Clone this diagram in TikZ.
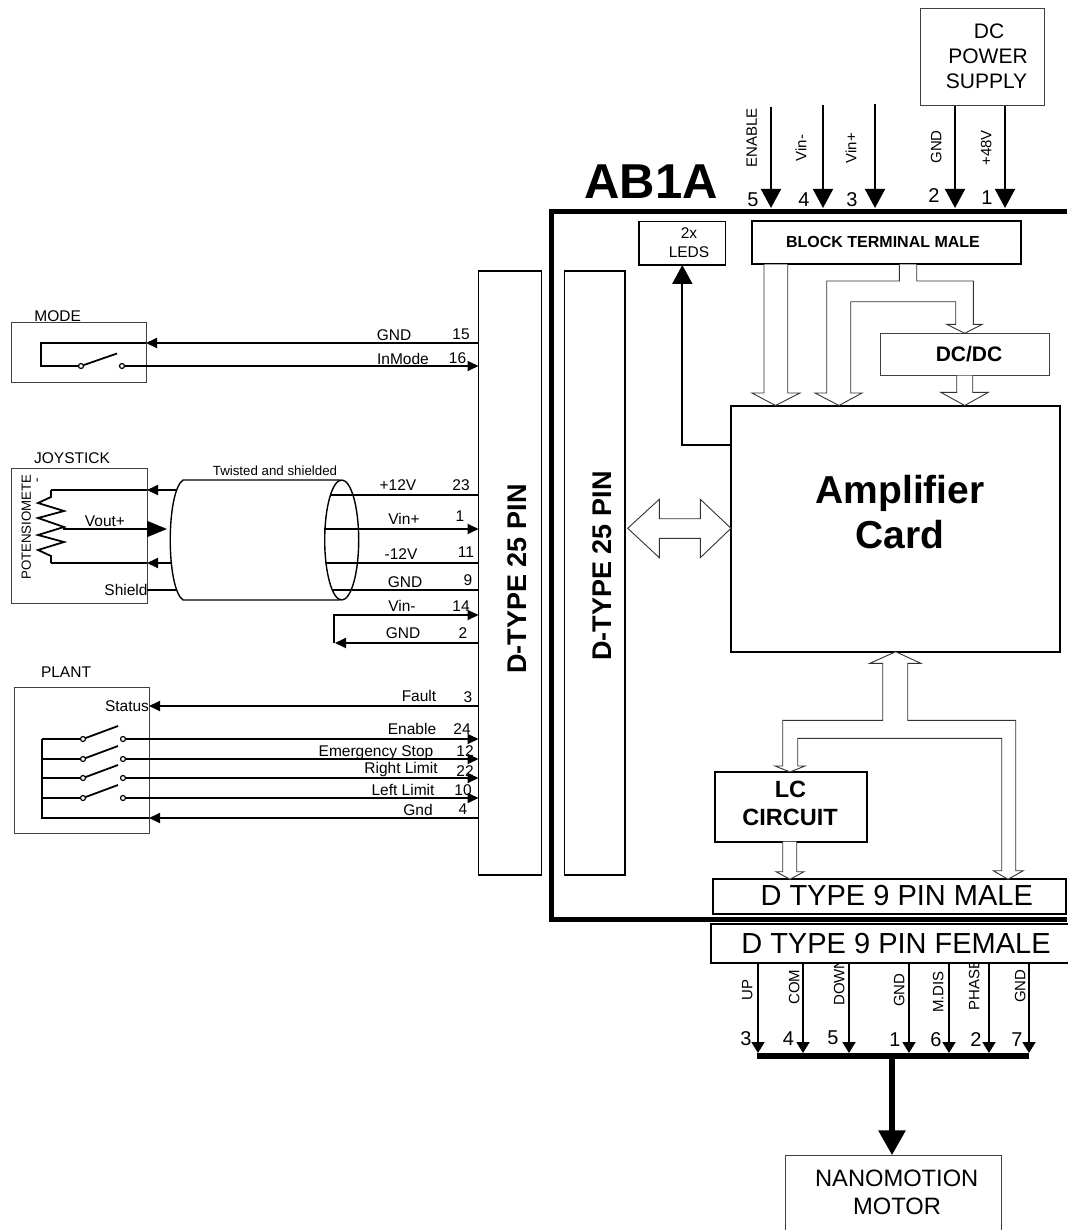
\documentclass[tikz,border=0pt]{standalone}
\usepackage{fontspec}
\setmainfont{Liberation Sans}
\usetikzlibrary{arrows.meta}
\tikzset{
	fs/.style={inner sep=0pt,outer sep=0pt,text depth=0pt,text height={#1*0.716pt},font=\fontsize{#1pt}{#1pt}\selectfont},
	lbl/.style={fs=15.5},
	lblrot/.style={fs=15,rotate=90},
	pinnum/.style={fs=20},
	title/.style={fs=#1,font=\fontsize{#1pt}{#1pt}\bfseries\selectfont},
	box/.style={draw=black!75,line width=1pt,fill=white,inner sep=0pt,outer sep=0pt},
	heavybox/.style={box,draw=black,line width=2pt},
	wire/.style={line width=1.8pt},
	hollow/.style={draw=black!80,line width=.9pt,fill=white},
	tipA/.style={-{Triangle[length=11pt,width=10pt]}},
	tipB/.style={-{Triangle[length=19pt,width=20pt]}},
	tipC/.style={-{Triangle[length=11pt,width=13pt]}},
	term/.style={draw,fill=white,line width=1.2pt},
}
\begin{document}
\begin{tikzpicture}[x=1pt,y=-1pt]
	\useasboundingbox (0,0) rectangle (1067,1230);
	% rotated labels that the lower connector hides in part
	\foreach \n/\xx/\yy/\t in {lUp/747/990/UP, lCom/794/987/COM, lDown/839/982/DOWN, lGndA/899/990/GND,
		lDis/938/992/M.DIS, lPhase/974/985/PHASE, lGndB/1020/986/GND}{
		\node[lblrot] (\n) at (\xx,\yy) {\t};
	}
	% boxes
	\foreach \n/\xx/\yy/\w/\h in {mode/78.5/352/135/60, joy/79.25/535.5/135.5/135, plant/81.5/760/135/146,
		supply/982.8/57/123.7/97.2, dcdc/965/354.5/168.6/42.4, motor/893.6/1197.6/215.3/84.7}{
		\node[box,minimum width=\w pt,minimum height=\h pt] (\n) at (\xx,\yy) {};
	}
	\foreach \n/\xx/\yy/\w/\h in {block/886.3/243/268.7/43, amp/895.5/528.6/329/246.2, lc/790.8/806.8/151.7/69.7,
		dmale/889.6/896.6/352.7/34.7, dfem/893/943.3/363.7/38.7}{
		\node[heavybox,minimum width=\w pt,minimum height=\h pt] (\n) at (\xx,\yy) {};
	}
	\node[heavybox,line width=1.4pt,minimum width=63pt,minimum height=604pt] (conL) at (510,573) {};
	\node[heavybox,line width=1.4pt,minimum width=60.5pt,minimum height=604pt] (conR) at (594.75,573) {};
	\node[heavybox,line width=1.5pt,minimum width=86.7pt,minimum height=43.3pt] (leds) at (682.3,243.3) {};
	\draw[line width=5pt] (1067,211.5) -- (551,211.5) -- (551,919) -- (1067,919);
	% mode
	\draw[wire,tipA] (conL.west |- 0,343) -- (mode.east |- 0,343);
	\draw[wire] (mode.east |- 0,343) -- (41,343) -- (41,366) -- (81,366);
	\draw[wire,tipA] (122,366) -- (conL.west |- 0,366);
	\draw[wire] (81,366) -- (117,353.5);
	\draw[term] (81,366) circle (2.5) (122,366) circle (2.5);
	% joystick
	\draw[wire] (51,490) -- (51,497) -- (38,503) -- (64,511) -- (38,518) -- (64,527) -- (38,535) -- (64,542) -- (38,550) -- (51,556) -- (51,563);
	\draw[wire,tipA] (176,490) -- (joy.east |- 0,490);
	\draw[wire] (joy.east |- 0,490) -- (51,490);
	\draw[wire,tipA] (171,563) -- (joy.east |- 0,563);
	\draw[wire] (joy.east |- 0,563) -- (51,563);
	\draw[wire,-{Triangle[length=20pt,width=16pt]}] (63,529) -- (167,529);
	\draw[wire] (joy.east |- 0,590) -- (176,590);
	\draw[line width=1.4pt] (340,480) -- (183,480) .. controls (166,492) and (166,588) .. (183,600) -- (340,600);
	\draw[line width=1.4pt] (341.7,540) ellipse [x radius=17,y radius=60];
	\foreach \xx/\yy in {330/495,325/563,332/590}{
		\draw[wire] (\xx,\yy) -- (conL.west |- 0,\yy);
	}
	\draw[wire,tipA] (324,529) -- (conL.west |- 0,529);
	\draw[wire,tipA] (334,643) -- (334,615) -- (conL.west |- 0,615);
	\draw[wire,tipA] (conL.west |- 0,643) -- (335,643);
	% plant
	\draw[wire,tipA] (conL.west |- 0,706) -- (plant.east |- 0,706);
	\draw[wire,tipA] (conL.west |- 0,818) -- (plant.east |- 0,818);
	\draw[wire] (plant.east |- 0,818) -- (42,818) -- (42,739);
	\foreach \yy in {739,759,778,798}{
		\draw[wire] (42,\yy) -- (83,\yy) -- (118,\yy-13);
		\draw[wire,tipA] (123,\yy) -- (conL.west |- 0,\yy);
		\draw[term] (83,\yy) circle (2.5) (123,\yy) circle (2.5);
	}
	% inputs on the top side
	\foreach \xx/\yy in {771/107,823/105,875/104}{
		\draw[wire,tipB] (\xx,\yy) -- (\xx,208);
	}
	\draw[wire,tipB] (supply.south -| 955,0) -- (955,208);
	\draw[wire,tipB] (supply.south -| 1005,0) -- (1005,208);
	% leds and double arrow
	\draw[wire,tipB] (amp.west |- 0,445) -- (682.3,445) -- (leds.south);
	\draw[hollow] (627.7,528.3) -- (659.3,499.3) -- (659.3,518.7) -- (700.3,518.7) -- (700.3,499.3)
		-- (amp.west |- 0,528.3) -- (700.3,557.7) -- (700.3,538.3) -- (659.3,538.3) -- (659.3,557.7) -- cycle;
	% block terminal to card
	\draw[hollow] (block.south -| 764,0) -- (764,393) -- (752,393) -- (amp.north -| 775.5,0) -- (800,393) -- (787.7,393) -- (block.south -| 787.7,0);
	\draw[hollow] (block.south -| 899.3,0) -- (899.3,281) -- (826.7,281) -- (826.7,393) -- (815,393) -- (amp.north -| 839,0) -- (862,393) -- (850.7,393)
		-- (850.7,301.7) -- (955.7,301.7) -- (955.7,324.3) -- (946.7,324.3) -- (dcdc.north -| 964.7,0) -- (982.3,324.3) -- (973.3,324.3) -- (973.3,281) -- (916.7,281) -- (block.south -| 916.7,0);
	\draw[hollow] (dcdc.south -| 956.7,0) -- (956.7,392.3) -- (940.7,392.3) -- (amp.north -| 964.7,0) -- (988.3,392.3) -- (972.7,392.3) -- (dcdc.south -| 972.7,0);
	% card to lc circuit and 9 pin
	\draw[hollow] (amp.south -| 895.7,0) -- (870,663.3) -- (882.7,663.3) -- (882.7,720.3) -- (782.7,720.3) -- (782.7,766) -- (775,766) -- (lc.north -| 790,0)
		-- (805,766) -- (797.7,766) -- (797.7,738.3) -- (1001.7,738.3) -- (1001.7,870.7) -- (993.3,870.7) -- (dmale.north -| 1008,0)
		-- (1023.3,870.7) -- (1015.7,870.7) -- (1015.7,720.3) -- (907.7,720.3) -- (907.7,663.3) -- (920.7,663.3) -- cycle;
	\draw[hollow] (lc.south -| 782.7,0) -- (782.7,871.7) -- (776,871.7) -- (dmale.north -| 790,0) -- (804,871.7) -- (796.7,871.7) -- (lc.south -| 796.7,0);
	% outputs on the bottom side
	\foreach \xx in {758,803,849,909,949,989,1029}{
		\draw[wire,tipC] (dfem.south -| \xx,0) -- (\xx,1053);
	}
	\draw[line width=6pt] (757,1055.7) -- (1029,1055.7);
	\draw[line width=6pt,-{Triangle[length=25pt,width=26pt]}] (892,1056) -- (motor.north -| 892,0);
	% texts
	\foreach \n/\xx/\yy/\t in {tMode/57.7/315.6/MODE, tJoy/72/458/JOYSTICK, tPlant/66/672/PLANT, tVout/105/521/Vout+, tShield/126/590/Shield,
		tStatus/127/706/Status, tG15/394/335/GND, n15/461/334/15, tInMode/403/358.5/InMode, n16/457.5/358/16,
		tP12/398/485/+12V, n23/461/485/23, tVinP/404/519/Vin+, n1/460/516/1, tM12/401/554/-12V, n11/466/552/11,
		tG9/405/582/GND, n9/468/580/9, tVinM/402/606/Vin-, n14/461/606/14, tG2/403/633/GND, n2/463/633/2,
		tFault/419/696/Fault, n3/468/697/3, tEnable/412/729/Enable, n24/462/729/24, tEmg/376/751/Emergency Stop, n12/465/751/12,
		tRight/401/768/Right Limit, n22/465/771/22, tLeft/403/790/Left Limit, n10/463/790/10, tGnd/418/810/Gnd, n4/463/809/4,
		tTwoX/689/233/2x, tLeds/689/252/LEDS}{
		\node[lbl] (\n) at (\xx,\yy) {\t};
	}
	\foreach \n/\xx/\yy/\t in {rEnable/751.5/138/ENABLE, rVinM/801/148/Vin-, rVinP/851/148/Vin+, rGnd/936/147/GND, rPwr/986/148/+48V}{
		\node[lblrot] (\n) at (\xx,\yy) {\t};
	}
	\foreach \n/\xx/\yy/\t in {a5/753/199/5, a4/804/199/4, a3/852/199/3, a2/934/195/2, a1/987/197/1,
		b3/746/1038/3, b4/788.5/1038/4, b5/833/1037/5, b1/895/1039/1, b6/936/1039/6, b2/976/1039/2, b7/1017/1039/7}{
		\node[pinnum] (\n) at (\xx,\yy) {\t};
	}
	\node[fs=13.3] (tTwist) at (275,471) {Twisted and shielded};
	\node[fs=13.3,rotate=90] (tPot) at (26,527) {POTENSIOMETE};
	\node[fs=13.3,rotate=90] (tDash) at (36,480) {-};
	\node[title=27,rotate=90] (tConL) at (516.7,579) {D-TYPE 25 PIN};
	\node[title=27,rotate=90] (tConR) at (601.7,566) {D-TYPE 25 PIN};
	\node[title=49] (tName) at (651,181) {AB1A};
	\node[title=16] (tBlock) at (883,242) {BLOCK TERMINAL MALE};
	\node[title=21] (tDcdc) at (969,354) {DC/DC};
	\node[title=39] (tAmpA) at (900,490) {Amplifier};
	\node[title=39] (tAmpB) at (900,535) {Card};
	\node[title=23.5] (tLc) at (790.5,789.5) {LC};
	\node[title=23.5] (tCirc) at (790,817) {CIRCUIT};
	\node[fs=29] (tMale) at (896.7,895.5) {D TYPE 9 PIN MALE};
	\node[fs=29] (tFem) at (896,943) {D TYPE 9 PIN FEMALE};
	\node[fs=21] (tDc) at (989,30.7) {DC};
	\node[fs=21] (tPow) at (988,56) {POWER};
	\node[fs=21] (tSup) at (986.5,81) {SUPPLY};
	\node[fs=23.7] (tNano) at (896.7,1178) {NANOMOTION};
	\node[fs=23.7] (tMot) at (897,1206) {MOTOR};
\end{tikzpicture}
\end{document}
